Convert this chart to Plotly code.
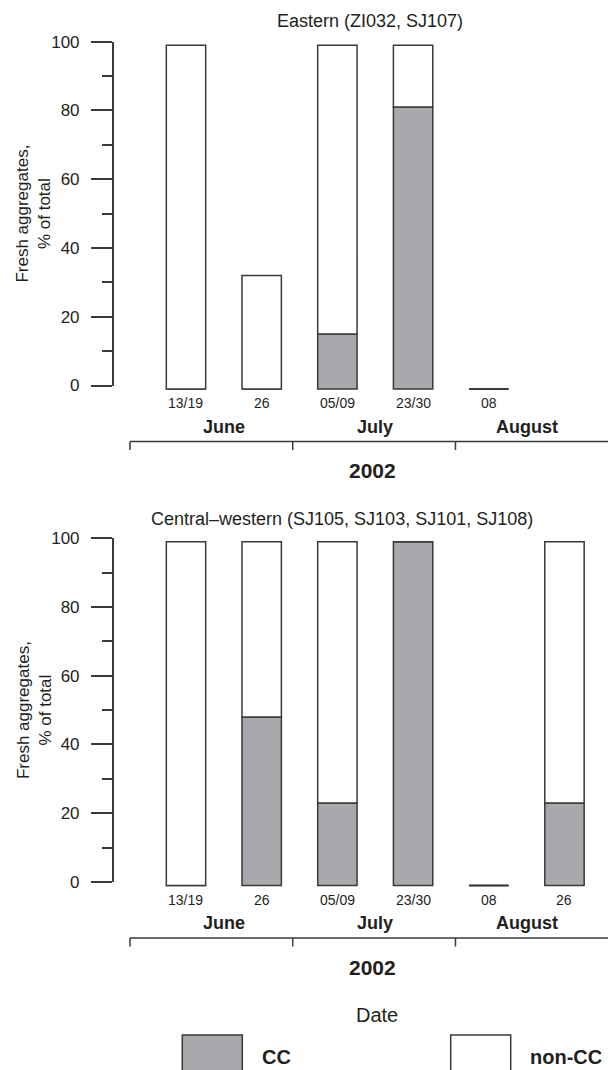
import plotly.graph_objects as go

# ---- data -------------------------------------------------------------
dates_top = ["13/19", "26", "05/09", "23/30", "08", ""]
dates_bottom = ["13/19", "26", "05/09", "23/30", "08", "26"]
months = ["June", "July", "August"]
month_of_bar = [0, 0, 1, 1, 2, 2]
year_label = "2002"

# percent of fresh aggregates per sampling date (None = not sampled)
east_cc = [0, 0, 16, 82, 0, None]
east_noncc = [100, 33, 84, 18, 0, None]
cw_cc = [0, 49, 24, 100, 0, 24]
cw_noncc = [100, 51, 76, 0, 0, 76]

titles = ["Eastern (ZI032, SJ107)",
          "Central–western (SJ105, SJ103, SJ101, SJ108)"]

# ---- styling / geometry ----------------------------------------------
W, H = 608, 1070
FONT = "Liberation Sans, Arial, Helvetica, sans-serif"
TXT = "#231f20"
LINE = "#3a3a3a"
GRAY = "#a8a9ad"
BASE = -1          # bars sit slightly below the zero tick
BAR_W = 0.52
BAR_RANGE = [-2.5, 101]
X_LEFT_PX = 113.7
X_RANGE = [-0.955, 5.575]
month_edges = [-0.74, 1.41, 3.56]


def fx(px):
    return px / W


def fy(py):
    return 1 - py / H


panels = [
    dict(cc=east_cc, non=east_noncc, dates=dates_top, title=titles[0],
         y100=41.7, y0=385.5, title_x=370, title_y=20.7, year_x=372.7),
    dict(cc=cw_cc, non=cw_noncc, dates=dates_bottom, title=titles[1],
         y100=538.2, y0=882.0, title_x=341.6, title_y=519.0, year_x=372.7),
]


def value_to_px(pn, v):
    return pn["y0"] - v * (pn["y0"] - pn["y100"]) / 100.0


fig = go.Figure()
annotations = []
shapes = []
layout_axes = {}

for p, pn in enumerate(panels):
    # bar subplot (axes hidden) and a twin subplot carrying the 0-100 scale
    bx, by = ("x", "y") if p == 0 else ("x2", "y2")
    sx, sy = ("x3", "y3") if p == 0 else ("x4", "y4")
    bxn, byn = bx.replace("x", "xaxis"), by.replace("y", "yaxis")
    sxn, syn = sx.replace("x", "xaxis"), sy.replace("y", "yaxis")

    cc, non = pn["cc"], pn["non"]
    idx = [i for i in range(len(cc)) if cc[i] is not None]

    fig.add_trace(go.Bar(
        x=idx, y=[cc[i] for i in idx], base=BASE, width=BAR_W,
        marker=dict(color=GRAY, line=dict(color=LINE, width=1.5)),
        showlegend=False, name="CC", xaxis=bx, yaxis=by, hoverinfo="skip"))
    fig.add_trace(go.Bar(
        x=idx, y=[non[i] for i in idx], base=[BASE + cc[i] for i in idx],
        width=BAR_W,
        marker=dict(color="white", line=dict(color=LINE, width=1.5)),
        showlegend=False, name="non-CC", xaxis=bx, yaxis=by,
        hoverinfo="skip"))

    # dates where nothing was found: an empty bar drawn as a flat outline
    for i in idx:
        if cc[i] + non[i] == 0:
            fig.add_trace(go.Scatter(
                x=[i - BAR_W / 2, i + BAR_W / 2], y=[BASE, BASE],
                mode="lines", line=dict(color=LINE, width=1.5),
                showlegend=False, hoverinfo="skip", xaxis=bx, yaxis=by))

    # empty trace so the scale subplot is laid out
    fig.add_trace(go.Scatter(x=[None], y=[None], mode="markers",
                             showlegend=False, hoverinfo="skip",
                             xaxis=sx, yaxis=sy))

    xdom = [fx(X_LEFT_PX), 1]
    layout_axes[bxn] = dict(domain=xdom, range=X_RANGE, visible=False,
                            anchor=by, fixedrange=True)
    layout_axes[byn] = dict(
        domain=[fy(value_to_px(pn, BAR_RANGE[0])),
                fy(value_to_px(pn, BAR_RANGE[1]))],
        range=BAR_RANGE, visible=False, anchor=bx, fixedrange=True)
    layout_axes[sxn] = dict(domain=xdom, range=X_RANGE, visible=False,
                            anchor=sy, fixedrange=True)
    layout_axes[syn] = dict(
        domain=[fy(pn["y0"]), fy(pn["y100"])], range=[0, 100], anchor=sx,
        showline=True, linecolor=LINE, linewidth=1.5,
        ticks="outside", ticklen=21, tickwidth=1.5, tickcolor=LINE,
        tickvals=[0, 20, 40, 60, 80, 100],
        minor=dict(tickvals=[10, 30, 50, 70, 90], ticks="outside",
                   ticklen=10, tickwidth=1.5, tickcolor=LINE),
        ticklabelstandoff=8, automargin=False,
        tickfont=dict(size=17, color=TXT, family=FONT),
        showgrid=False, zeroline=False, fixedrange=True)

    y0 = pn["y0"]
    # panel title
    annotations.append(dict(
        text=pn["title"], x=fx(pn["title_x"]), y=fy(pn["title_y"]),
        xref="paper", yref="paper", xanchor="center", yanchor="middle",
        showarrow=False, font=dict(size=18, color=TXT, family=FONT)))
    # y-axis title
    annotations.append(dict(
        text="Fresh aggregates,<br>% of total", textangle=-90,
        x=fx(34), y=fy((pn["y100"] + y0) / 2),
        xref="paper", yref="paper", xanchor="center", yanchor="middle",
        showarrow=False, font=dict(size=17, color=TXT, family=FONT)))
    # sampling dates under bars
    for i, d in enumerate(pn["dates"]):
        if d:
            annotations.append(dict(
                text=d, x=i, y=fy(y0 + 18), xref=bx, yref="paper",
                xanchor="center", yanchor="middle", showarrow=False,
                font=dict(size=14, color=TXT, family=FONT)))
    # month labels centred on their bars
    for m, name in enumerate(months):
        members = [i for i in range(len(month_of_bar)) if month_of_bar[i] == m]
        annotations.append(dict(
            text="<b>" + name + "</b>", x=sum(members) / len(members),
            y=fy(y0 + 41), xref=bx, yref="paper",
            xanchor="center", yanchor="middle", showarrow=False,
            font=dict(size=18, color=TXT, family=FONT)))
    # bracket separating the months
    shapes.append(dict(type="line", xref=bx, yref="paper",
                       x0=month_edges[0], x1=X_RANGE[1] + 0.2,
                       y0=fy(y0 + 56), y1=fy(y0 + 56),
                       line=dict(color=LINE, width=1.5)))
    for e in month_edges:
        shapes.append(dict(type="line", xref=bx, yref="paper",
                           x0=e, x1=e, y0=fy(y0 + 56), y1=fy(y0 + 64.5),
                           line=dict(color=LINE, width=1.5)))
    annotations.append(dict(
        text="<b>" + year_label + "</b>", x=fx(pn["year_x"]),
        y=fy(y0 + 85.5), xref="paper", yref="paper",
        xanchor="center", yanchor="middle", showarrow=False,
        font=dict(size=21, color=TXT, family=FONT)))

# x-axis caption and legend
annotations.append(dict(
    text="Date", x=fx(377), y=fy(1015), xref="paper", yref="paper",
    xanchor="center", yanchor="middle", showarrow=False,
    font=dict(size=20, color=TXT, family=FONT)))
legend_items = [("CC", GRAY, 182.3, 260.0), ("non-CC", "white", 450.7, 528.3)]
for label, color, bxp, txp in legend_items:
    shapes.append(dict(type="rect", xref="paper", yref="paper",
                       x0=fx(bxp), x1=fx(bxp + 60), y0=fy(1035), y1=fy(1090),
                       fillcolor=color, line=dict(color=LINE, width=1.5)))
    annotations.append(dict(
        text="<b>" + label + "</b>", x=fx(txp), y=fy(1057),
        xref="paper", yref="paper", xanchor="left", yanchor="middle",
        showarrow=False, font=dict(size=20, color=TXT, family=FONT)))

fig.update_layout(
    template="none",
    width=W, height=H, autosize=False,
    margin=dict(l=0, r=0, t=0, b=0, pad=0),
    paper_bgcolor="white", plot_bgcolor="rgba(0,0,0,0)",
    barmode="overlay", showlegend=False,
    font=dict(family=FONT, color=TXT),
    annotations=annotations, shapes=shapes,
    **layout_axes,
)

fig.write_html("out.html")
